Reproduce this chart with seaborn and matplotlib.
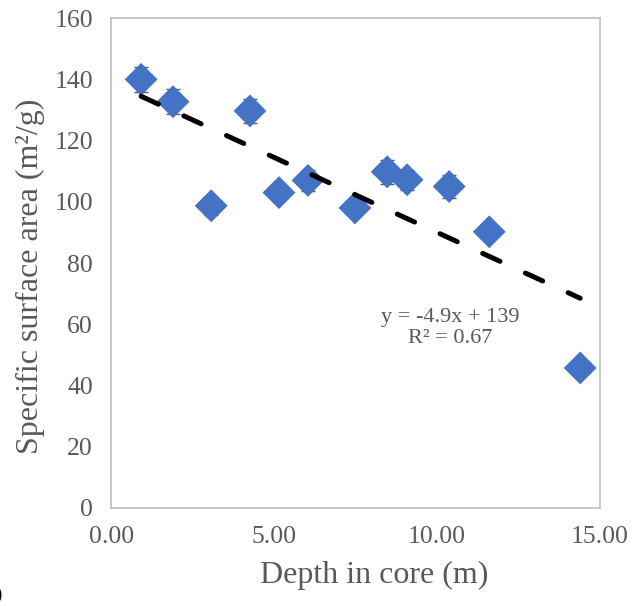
import numpy as np
import pandas as pd
import matplotlib
matplotlib.use("Agg")
import matplotlib.pyplot as plt
import seaborn as sns

# Data
depth = [0.92, 1.90, 3.07, 4.26, 5.15, 6.04, 7.48, 8.47, 9.08, 10.37, 11.60, 14.39]
ssa = [140.0, 132.7, 98.7, 129.7, 103.0, 107.0, 98.0, 109.8, 107.2, 105.0, 90.2, 45.7]
ssa_err = [4.0, 4.0, 3.0, 4.0, 2.0, 3.5, 2.0, 4.0, 3.3, 3.6, 1.5, 1.0]
trend_slope = -4.9
trend_intercept = 139
trend_label = "y = -4.9x + 139\nR² = 0.67"
x_ticks = [0, 5, 10, 15]
x_tick_labels = ["0.00", "5.00", "10.00", "15.00"]
y_ticks = [0, 20, 40, 60, 80, 100, 120, 140, 160]

sns.set_style("white")
plt.rcParams["font.family"] = ["Liberation Serif", "DejaVu Serif"]

df = pd.DataFrame({"depth": depth, "ssa": ssa, "err": ssa_err})
xs = np.array([min(depth), max(depth)])
trend = pd.DataFrame({"depth": xs, "fit": trend_slope * xs + trend_intercept})

fig = plt.figure(figsize=(6.35, 6.06), dpi=100)
ax = fig.add_axes([0.175, 0.162, 0.770, 0.808])

ax.errorbar(df["depth"], df["ssa"], yerr=df["err"], fmt="none",
            ecolor="#595959", elinewidth=1.0, capsize=4.7, capthick=1.0, zorder=2)
sns.scatterplot(data=df, x="depth", y="ssa", marker="D", s=280, color="#4472C4",
                edgecolor="none", linewidth=0, ax=ax, zorder=3)
sns.lineplot(data=trend, x="depth", y="fit", color="black", linewidth=3.6,
             dashes=False, ax=ax, zorder=4)
line = ax.lines[-1]
line.set_dashes((3.8, 5.6))
line.set_dash_capstyle("round")

ax.text(10.4, 58.8, trend_label, ha="center", va="center", multialignment="center",
        fontsize=16, color="#595959", linespacing=1.15)

ax.set_xlim(0, 15)
ax.set_ylim(0, 160)
ax.set_xticks(x_ticks)
ax.set_xticklabels(x_tick_labels)
ax.set_yticks(y_ticks)
ax.tick_params(axis="both", length=0, labelsize=18.5, labelcolor="#595959", pad=13)

for sp in ax.spines.values():
    sp.set_visible(True)
    sp.set_color("#BFBFBF")
    sp.set_linewidth(1.2)

ax.set_xlabel("Depth in core (m)", fontsize=23, color="#595959")
ax.set_ylabel("Specific surface area (m²/g)", fontsize=23, color="#595959")
ax.xaxis.set_label_coords(0.539, -0.108)
ax.yaxis.set_label_coords(-0.135, 0.473)

fig.text(0.006, 0.008, "(b)", ha="right", va="baseline", fontsize=12,
         fontweight="bold", color="black", family="DejaVu Sans")

fig.savefig("out.png", dpi=100)
